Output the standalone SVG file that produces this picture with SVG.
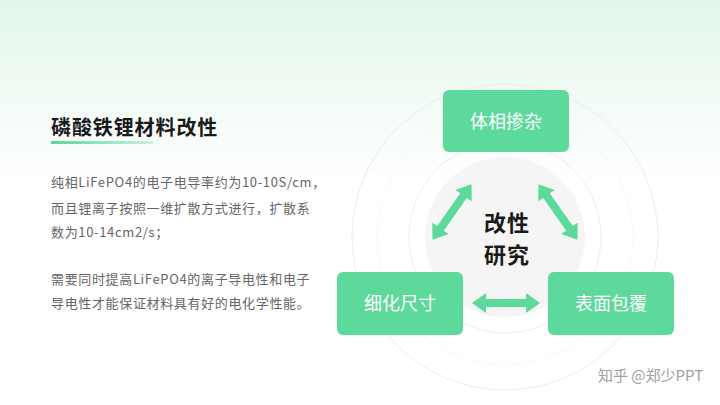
<svg xmlns="http://www.w3.org/2000/svg" xmlns:xlink="http://www.w3.org/1999/xlink" width="720" height="405" viewBox="0 0 720 405">
  <defs>
    <linearGradient id="bg" x1="0" y1="0" x2="0" y2="1">
      <stop offset="0" stop-color="#e2f6e9"/>
      <stop offset="0.45" stop-color="#ffffff"/>
      <stop offset="1" stop-color="#ffffff"/>
    </linearGradient>
    <linearGradient id="ul" x1="0" y1="0" x2="1" y2="0">
      <stop offset="0" stop-color="#5ad89a"/>
      <stop offset="1" stop-color="#c9f1dc"/>
    </linearGradient>
    <path id="arr" d="M -34 0 L -20 -10 L -20 -4 L 20 -4 L 20 -10 L 34 0 L 20 10 L 20 4 L -20 4 L -20 10 Z"/>
    <style>
      text { font-family: "Noto Sans CJK SC", "Noto Sans", sans-serif; }
      .para { font-size: 13px; fill: #666666; letter-spacing: 0.65px; }
      .box { fill: #5cd99b; }
      .lbl { font-size: 18px; fill: #ffffff; text-anchor: middle; }
      .ring { fill: none; stroke: #ececec; stroke-width: 1; }
      .arrow { fill: #5cd99b; }
      .ctr { font-size: 22px; font-weight: bold; fill: #1a1a1a; text-anchor: middle; letter-spacing: 1px; }
    </style>
  </defs>
  <rect width="720" height="405" fill="url(#bg)"/>

  <g id="title">
    <text x="51" y="135" font-size="20" font-weight="bold" fill="#1a1a1a" letter-spacing="0.9">磷酸铁锂材料改性</text>
    <rect x="51" y="141" width="102" height="3" fill="url(#ul)"/>
  </g>

  <g id="body">
    <text class="para" x="51" y="187">纯相LiFePO4的电子电导率约为10-10S/cm，</text>
    <text class="para" x="51" y="213">而且锂离子按照一维扩散方式进行，扩散系</text>
    <text class="para" x="51" y="237">数为10-14cm2/s；</text>
    <text class="para" x="51" y="284">需要同时提高LiFePO4的离子导电性和电子</text>
    <text class="para" x="51" y="308">导电性才能保证材料具有好的电化学性能。</text>
  </g>

  <g id="rings">
    <circle class="ring" cx="505" cy="237" r="153" stroke="#f0f0f0"/>
    <circle class="ring" cx="505" cy="237" r="128" stroke-dasharray="1 2"/>
    <circle class="ring" cx="505" cy="237" r="96"/>
    <circle cx="505" cy="237" r="80" fill="#f5f5f5"/>
  </g>

  <g id="center">
    <text class="ctr" x="507" y="231">改性</text>
    <text class="ctr" x="507" y="263">研究</text>
  </g>

  <g id="node-top">
    <rect class="box" x="443" y="90" width="126" height="62" rx="6"/>
    <text class="lbl" x="506" y="128">体相掺杂</text>
  </g>
  <g id="node-left">
    <rect class="box" x="337" y="272" width="126" height="63" rx="6"/>
    <text class="lbl" x="400" y="310">细化尺寸</text>
  </g>
  <g id="node-right">
    <rect class="box" x="548" y="272" width="126" height="63" rx="6"/>
    <text class="lbl" x="611" y="310">表面包覆</text>
  </g>

  <g id="connectors">
    <use class="arrow" xlink:href="#arr" transform="translate(506,303)"/>
    <use class="arrow" xlink:href="#arr" transform="translate(452,212) rotate(-55)"/>
    <use class="arrow" xlink:href="#arr" transform="translate(558,212) rotate(55)"/>
  </g>

  <g id="watermark">
    <text x="598" y="381" font-size="15" fill="#a0a0a0">知乎 @郑少PPT</text>
  </g>
</svg>
